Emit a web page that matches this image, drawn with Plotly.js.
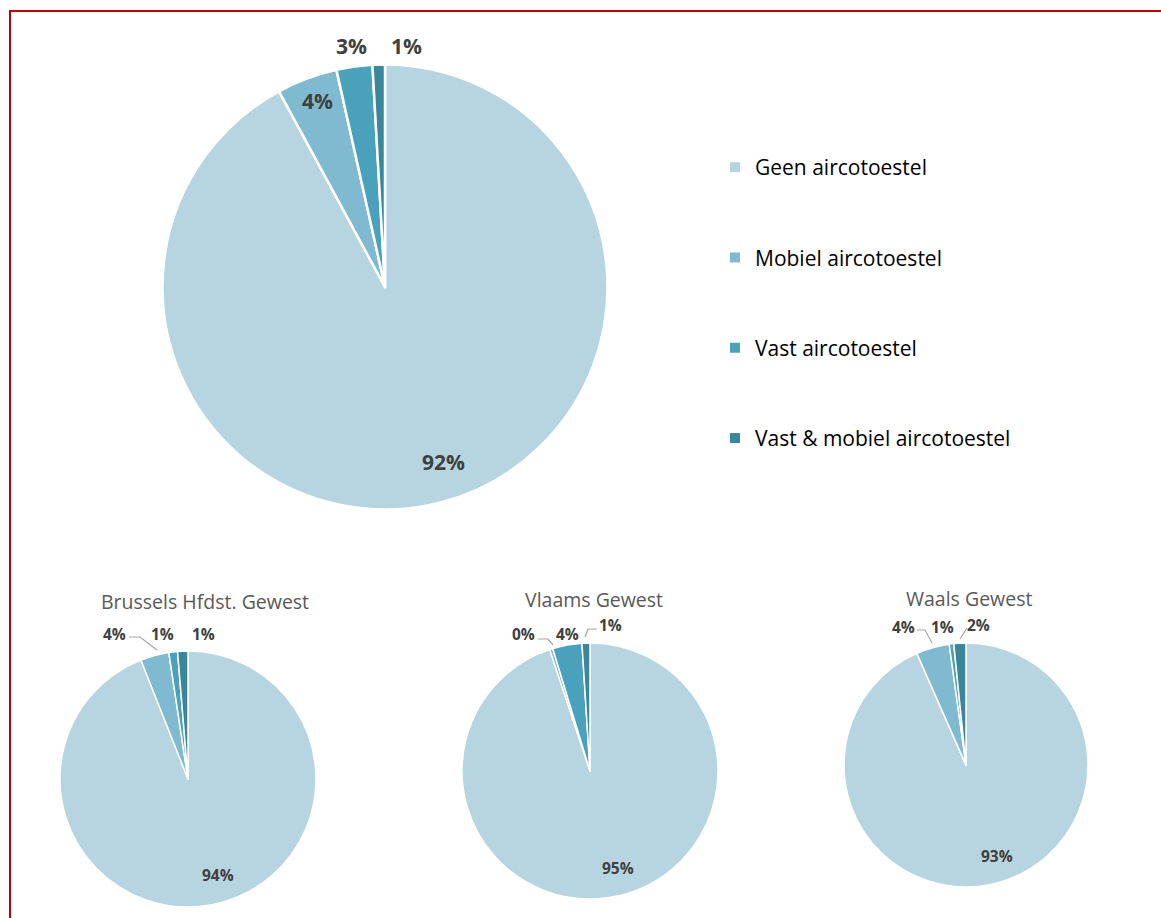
<!DOCTYPE html>
<html>
<head>
<meta charset="utf-8">
<script src="https://cdn.plot.ly/plotly-3.0.1.min.js"></script>
<style>
  html, body { margin: 0; padding: 0; background: #ffffff; }
  #chart { width: 1161px; height: 918px; }
</style>
</head>
<body>
<div id="chart"></div>
<script>
// ---- data ----
const categories = ['Geen aircotoestel', 'Mobiel aircotoestel', 'Vast aircotoestel', 'Vast & mobiel aircotoestel'];
const belgie     = [92.1, 4.4, 2.6, 0.9];
const brussel    = [94.0, 3.6, 1.1, 1.3];
const vlaanderen = [94.9, 0.4, 3.7, 1.0];
const wallonie   = [93.4, 4.4, 0.6, 1.6];
const regionTitles = ['Brussels Hfdst. Gewest', 'Vlaams Gewest', 'Waals Gewest'];
const sliceColors = ['#b7d5e0', '#7fbad0', '#49a1bb', '#3a869a'];

// ---- layout helpers ----
const W = 1161, H = 918;
function X(px) { return px / W; }
function Y(py) { return 1 - py / H; }
function dom(cx, cy, r) {
  return { x: [X(cx - r), X(cx + r)], y: [Y(cy + r), Y(cy - r)] };
}
function pct(v) { return Math.round(v) + '%'; }

function pie(values, domain, lw) {
  return {
    type: 'pie',
    labels: categories,
    values: values,
    sort: false,
    direction: 'clockwise',
    rotation: 0,
    domain: domain,
    marker: { colors: sliceColors, line: { color: '#ffffff', width: lw } },
    textinfo: 'none',
    showlegend: false,
    hoverinfo: 'label+percent',
    automargin: false
  };
}

const pies = [
  { values: belgie,     cx: 385, cy: 287, r: 222.5, lw: 2.5 },
  { values: brussel,    cx: 188, cy: 779, r: 128,   lw: 1.5 },
  { values: vlaanderen, cx: 590, cy: 771, r: 128,   lw: 1.5 },
  { values: wallonie,   cx: 966, cy: 765, r: 122,   lw: 1.5 }
];
const traces = pies.map(function (p) { return pie(p.values, dom(p.cx, p.cy, p.r), p.lw); });

// legend entries (one group per category so they can be spaced out)
categories.forEach(function (c, i) {
  traces.push({
    type: 'scatter', mode: 'markers', x: [null], y: [null],
    name: c, legendgroup: 'g' + i, showlegend: true,
    marker: { symbol: 'square', size: 10, color: sliceColors[i], line: { width: 0 } },
    hoverinfo: 'skip'
  });
});

// label placement (pixel positions of each slice's percentage label)
const labelPos = [
  [[443, 462], [317, 101], [351, 46], [406, 46]],
  [[218, 875], [114, 634], [162, 634], [203, 634]],
  [[618, 868], [523, 634], [567, 634], [610, 625]],
  [[997, 856], [903, 627], [942, 627], [978, 625]]
];
const labelSize = [21, 15.5, 15.5, 15.5];
const annotations = [];
pies.forEach(function (p, k) {
  p.values.forEach(function (v, i) {
    annotations.push({
      text: '<b>' + pct(v) + '</b>', xref: 'paper', yref: 'paper',
      x: X(labelPos[k][i][0]), y: Y(labelPos[k][i][1]),
      xanchor: 'center', yanchor: 'middle', showarrow: false,
      font: { family: 'Open Sans, sans-serif', size: labelSize[k], color: '#404040' }
    });
  });
});

const titleCenters = [[205, 601], [594, 599], [969, 598]];
regionTitles.forEach(function (t, i) {
  annotations.push({
    text: t, xref: 'paper', yref: 'paper',
    x: X(titleCenters[i][0]), y: Y(titleCenters[i][1]),
    xanchor: 'center', yanchor: 'middle', showarrow: false,
    font: { family: 'Open Sans, sans-serif', size: 19.5, color: '#595959' }
  });
});

// leader lines for small outside labels
const leaders = [
  [[129, 637], [140, 637], [157, 650]],
  [[538, 639], [548, 639], [553, 645]],
  [[597, 629], [588, 629], [585, 637]],
  [[917, 630], [925, 630], [932, 643]],
  [[967, 628], [960, 639]]
];
const shapes = leaders.map(function (pts) {
  const d = pts.map(function (pt, j) { return (j ? 'L' : 'M') + X(pt[0]) + ',' + Y(pt[1]); }).join(' ');
  return { type: 'path', xref: 'paper', yref: 'paper', path: d, line: { color: '#a6a6a6', width: 1.2 } };
});
shapes.push({
  type: 'rect', xref: 'paper', yref: 'paper',
  x0: X(10), x1: 1.02, y0: -0.02, y1: Y(11),
  line: { color: '#c00000', width: 2 }, fillcolor: 'rgba(0,0,0,0)'
});

const layout = {
  width: W, height: H,
  margin: { l: 0, r: 0, t: 0, b: 0 },
  paper_bgcolor: '#ffffff', plot_bgcolor: 'rgba(0,0,0,0)',
  xaxis: { visible: false }, yaxis: { visible: false },
  showlegend: true,
  legend: {
    x: X(715), y: Y(147), xanchor: 'left', yanchor: 'top',
    font: { family: 'Open Sans, sans-serif', size: 21, color: '#000000' },
    tracegroupgap: 60, itemwidth: 30, bgcolor: 'rgba(0,0,0,0)'
  },
  annotations: annotations,
  shapes: shapes
};

Plotly.newPlot('chart', traces, layout, { displayModeBar: false, responsive: false });
</script>
</body>
</html>
